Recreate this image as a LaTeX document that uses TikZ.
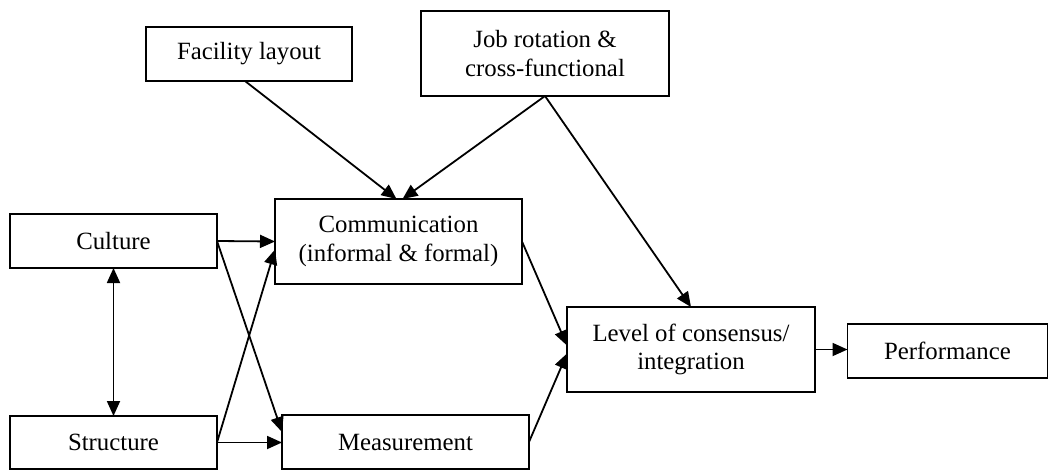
\documentclass[tikz,border=0pt]{standalone}
\usepackage{fontspec}
\setmainfont{Liberation Serif}
\usetikzlibrary{arrows.meta,calc}
\begin{document}
\begin{tikzpicture}[x=0.5pt,y=-0.5pt,
  box/.style={draw,line width=0.8pt,inner sep=0pt,outer sep=0pt,align=center,
    font=\fontsize{12.4}{14.2}\selectfont},
  conn/.style={line width=0.9pt,-{Triangle[length=7.5pt,width=6.5pt]}},
  biconn/.style={line width=0.9pt,{Triangle[length=7.5pt,width=6.5pt]}-{Triangle[length=7.5pt,width=6.5pt]}}]
\useasboundingbox (0,0) rectangle (1050,471);
\node[box,minimum width=103pt,minimum height=27pt] (fac) at (249,54) {Facility layout};
\node[box,minimum width=124pt,minimum height=42.5pt] (job) at (545,53.5) {Job rotation \&\\cross-functional};
\node[box,minimum width=103.5pt,minimum height=27pt] (cul) at (113.5,241) {Culture};
\node[box,minimum width=123.5pt,minimum height=42.5pt] (com) at (398.5,241.5) {Communication\\(informal \& formal)};
\node[box,minimum width=124pt,minimum height=42.5pt] (lev) at (691,349.5) {Level of consensus/\\integration};
\node[box,minimum width=100pt,minimum height=27pt] (perf) at (947.5,351) {Performance};
\node[box,minimum width=103.5pt,minimum height=26.5pt] (str) at (113.5,442.5) {Structure};
\node[box,minimum width=123.5pt,minimum height=27pt] (mea) at (405.5,442) {Measurement};

\draw[conn] ($(fac.south)+(-4,0)$) -- ($(com.north)+(-2,0)$);
\draw[conn] (job.south) -- ($(com.north)+(4,0)$);
\draw[conn] (job.south) -- (lev.north);
\draw[conn] (cul.east) -- (com.west);
\draw[conn] (cul.east) -- ($(mea.west)+(0,-10)$);
\draw[conn] (str.east) -- ($(com.west)+(0,8)$);
\draw[conn] (str.east) -- (str.east -| mea.west);
\draw[biconn] (cul.south) -- (str.north);
\draw[conn] (com.east) -- ($(lev.west)+(0,-4)$);
\draw[conn] (mea.east) -- ($(lev.west)+(0,4)$);
\draw[conn] (lev.east) -- (lev.east -| perf.west);
\end{tikzpicture}
\end{document}
